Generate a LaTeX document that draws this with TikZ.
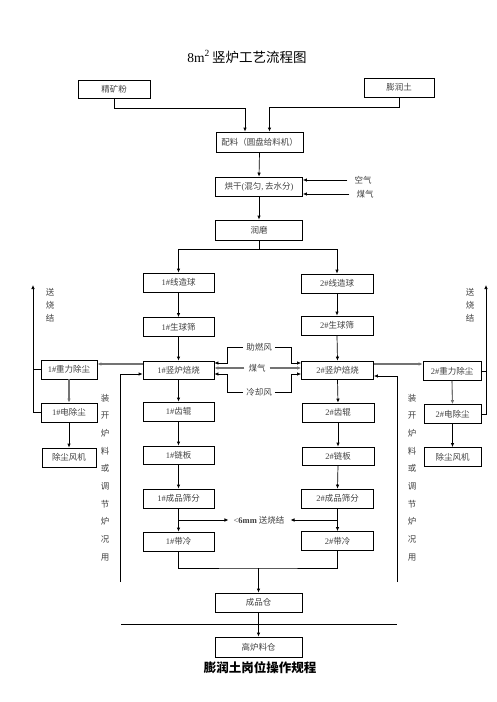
\documentclass[tikz,border=0pt]{standalone}
\usepackage{fontspec}
\setmainfont{Liberation Serif}
\newfontfamily\cjk{Noto Sans CJK SC}
\usetikzlibrary{arrows.meta,calc}

\newcommand{\hao}[1]{{\rmfamily #1\#}}

\tikzset{
    box/.style={draw, line width=0.7pt, minimum width=71pt, minimum height=19pt, inner sep=1pt,
        font=\cjk\fontsize{8.5}{10}\selectfont, text=black!75},
    widebox/.style={box, minimum width=87pt},
    dustbox/.style={box, minimum width=56pt},
    lbl/.style={font=\cjk\fontsize{8.5}{10}\selectfont, text=black!75, inner sep=1pt},
    vlbl/.style={lbl, align=center},
    arr/.style={line width=0.7pt, -{Latex[length=4pt,width=3.5pt]}},
    ln/.style={line width=0.7pt},
    garr/.style={arr, draw=black!55, line width=1.1pt}
}

\begin{document}
\begin{tikzpicture}[x=1pt, y=-1pt]
    \useasboundingbox (0,0) rectangle (496,702);

    % Title
    \node[font=\cjk\fontsize{13.5}{16}\selectfont] (title) at (247,57) {{\rmfamily 8m\textsuperscript{2}}\,竖炉工艺流程图};

    % Feed and preparation
    \node[box, minimum width=72pt, minimum height=18pt] (jkf) at (114,89) {精矿粉};
    \node[box, minimum width=70pt] (prt) at (399,87.5) {膨润土};
    \node[widebox, minimum height=20pt] (pl) at (259.5,142) {配料（圆盘给料机）};
    \node[widebox] (hg) at (259,186.5) {烘干{\rmfamily (}混匀{\rmfamily ,\,}去水分{\rmfamily )}};
    \node[widebox, minimum height=20pt] (rm) at (259,230) {润磨};
    \node[lbl] (kq) at (363,180) {空气};
    \node[lbl] (mq0) at (365,194) {煤气};

    \draw[arr] (jkf.south) -- ++(0,10) -| ([xshift=-14.5pt]pl.north);
    \draw[arr] (prt.south) -- ++(0,10) -| ([xshift=10pt]pl.north);
    \draw[arr] (pl.south) -- (hg.north);
    \draw[arr] ([xshift=-6pt]kq.west) -- (kq -| hg.east);
    \draw[arr] ([xshift=-6pt]mq0.west) -- (mq0 -| hg.east);
    \draw[arr] (hg.south) -- (rm.north);

    % Line 1 and line 2
    \node[box] (zq1) at (178.5,282.5) {\hao{1}线造球};
    \node[box] (sj1) at (178.5,327) {\hao{1}生球筛};
    \node[box, minimum height=18pt] (sl1) at (178.5,370) {\hao{1}竖炉焙烧};
    \node[box] (cg1) at (178.5,411.5) {\hao{1}齿辊};
    \node[box, minimum height=18pt] (lb1) at (178.5,455) {\hao{1}链板};
    \node[box] (sf1) at (178.5,498.5) {\hao{1}成品筛分};
    \node[box] (dl1) at (178.5,541.5) {\hao{1}带冷};

    \node[box, minimum width=72pt] (zq2) at (337,283.5) {\hao{2}线造球};
    \node[box, minimum width=72pt] (sj2) at (337,325.5) {\hao{2}生球筛};
    \node[box, minimum width=72pt, minimum height=18pt] (sl2) at (337.5,370) {\hao{2}竖炉焙烧};
    \node[box, minimum width=72pt] (cg2) at (338,412.5) {\hao{2}齿辊};
    \node[box, minimum width=72pt, minimum height=18pt] (lb2) at (338,456) {\hao{2}链板};
    \node[box, minimum width=72pt] (sf2) at (337.5,498.5) {\hao{2}成品筛分};
    \node[box, minimum width=72pt] (dl2) at (337.5,541) {\hao{2}带冷};

    \draw[arr] (rm.south) -- ++(0,9) -| (zq1.north);
    \draw[arr] (rm.south) -- ++(0,9) -| (zq2.north);
    \foreach \a/\b in {zq1/sj1, sj1/sl1, sl1/cg1, cg1/lb1, lb1/sf1, sf1/dl1,
                       zq2/sj2, sj2/sl2, sl2/cg2, cg2/lb2, lb2/sf2, sf2/dl2}
        \draw[arr] (\a.south) -- (\b.north);

    % Air and gas into the shaft furnaces
    \node[lbl] (zrf) at (259,347) {助燃风};
    \node[lbl] (mq) at (257,368) {煤气};
    \node[lbl] (lqf) at (259,392) {冷却风};
    \draw[arr] ([xshift=-2pt]zrf.west) -| ([xshift=13pt,yshift=7pt]sl1.east) -- ([yshift=7pt]sl1.east);
    \draw[arr] ([xshift=2pt]zrf.east) -| ([xshift=-10pt,yshift=7pt]sl2.west) -- ([yshift=7pt]sl2.west);
    \draw[garr] ([xshift=-3pt]mq.west) -- (mq -| sl1.east);
    \draw[garr] ([xshift=3pt]mq.east) -- (mq -| sl2.west);
    \draw[arr] ([xshift=-2pt]lqf.west) -| ([xshift=13pt,yshift=-4pt]sl1.east) -- ([yshift=-4pt]sl1.east);
    \draw[arr] ([xshift=2pt]lqf.east) -| ([xshift=-10pt,yshift=-4pt]sl2.west) -- ([yshift=-4pt]sl2.west);

    % Dust removal
    \node[dustbox] (zl1) at (69,369.5) {\hao{1}重力除尘};
    \node[dustbox] (dc1) at (69,412.5) {\hao{1}电除尘};
    \node[dustbox, minimum width=54pt] (fj1) at (69,457.5) {除尘风机};
    \node[dustbox, minimum width=58pt] (zl2) at (452,371) {\hao{2}重力除尘};
    \node[dustbox, minimum width=57pt] (dc2) at (452.5,414) {\hao{2}电除尘};
    \node[dustbox, minimum width=57pt] (fj2) at (452.5,457) {除尘风机};

    \draw[garr] ([yshift=6pt]sl1.west) -- ([yshift=6pt]sl1.west -| zl1.east);
    \draw[garr] ([yshift=6pt]sl2.east) -- ([yshift=6pt]sl2.east -| zl2.west);
    \draw[garr] (zl1.south) -- (dc1.north);
    \draw[arr] (dc1.south) -- (fj1.north);
    \draw[garr] (zl2.south) -- (dc2.north);
    \draw[arr] (dc2.south) -- (fj2.north);

    % To sintering
    \coordinate (ss1) at (33,285);
    \coordinate (ss2) at (486,285);
    \draw[arr] (dc1.west) -- (dc1.west -| ss1) -- (ss1);
    \draw[ln] (zl1.west) -- (zl1.west -| ss1);
    \draw[arr] (dc2.east) -- (dc2.east -| ss2) -- (ss2);
    \draw[ln] (zl2.east) -- (zl2.east -| ss2);
    \node[vlbl, font=\cjk\fontsize{8.5}{13}\selectfont] (ssj1) at (50,305) {送\\烧\\结};
    \node[vlbl, font=\cjk\fontsize{8.5}{13}\selectfont] (ssj2) at (470,305) {送\\烧\\结};

    % Return for charging
    \coordinate (hl1) at (120,582);
    \coordinate (hl2) at (397,582);
    \draw[arr] (hl1) |- ([yshift=-4pt]sl1.west);
    \draw[arr] (hl2) |- ([yshift=-6pt]sl2.east);
    \node[vlbl, font=\cjk\fontsize{8.5}{17.7}\selectfont] (zkl1) at (105,477.5) {装\\开\\炉\\料\\或\\调\\节\\炉\\况\\用};
    \node[vlbl, font=\cjk\fontsize{8.5}{17.7}\selectfont] (zkl2) at (412,477.5) {装\\开\\炉\\料\\或\\调\\节\\炉\\况\\用};

    % Fines to sintering
    \node[lbl] (lt6) at (259,520) {{\rmfamily <\textbf{6mm}} 送烧结};
    \draw[arr] (sf1.south |- lt6) -- ([xshift=-4pt]lt6.west);
    \draw[arr] (sf2.south |- lt6) -- ([xshift=5pt]lt6.east);

    % Product
    \node[widebox] (cpc) at (258.5,602.5) {成品仓};
    \node[widebox, minimum height=20pt] (glc) at (258.5,647) {高炉料仓};
    \coordinate (jn) at (258.5,568);
    \draw[ln] (dl1.south) |- (jn) -| (dl2.south);
    \draw[arr] (jn) -- (cpc.north);
    \draw[ln] (121,624) -- (397,624);
    \draw[arr] (cpc.south) -- (glc.north);

    % Footer
    \node[font=\cjk\bfseries\fontsize{12.5}{15}\selectfont] (foot) at (260,668) {膨润土岗位操作规程};
\end{tikzpicture}
\end{document}
